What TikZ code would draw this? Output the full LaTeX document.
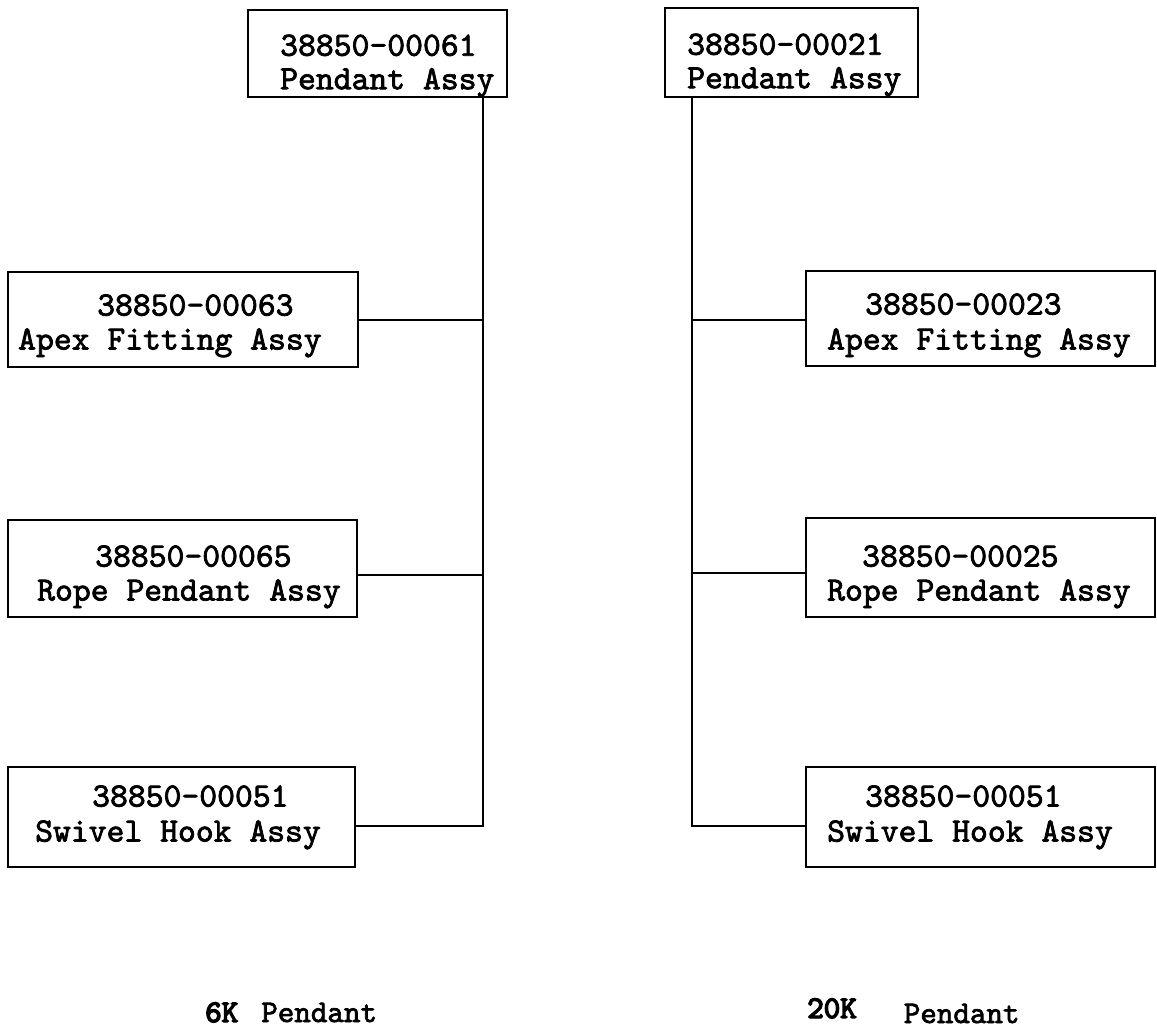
\documentclass[tikz,border=0pt]{standalone}
\usepackage{fontspec}
\newfontfamily\typew{lmmono10-regular.otf}[RawFeature={embolden=2.2}]
\newfontfamily\typewb{lmmono10-regular.otf}[RawFeature={embolden=4.5}]
\begin{document}
\begin{tikzpicture}[x=1pt,y=-1pt,
  box/.style={draw=black,line width=2.2pt,inner sep=0pt},
  txt/.style={anchor=north west,inner sep=0pt,align=left,font=\typew\fontsize{34}{34}\selectfont},
  captxt/.style={anchor=base west,inner sep=0pt,font=\typew\fontsize{31.5}{36}\selectfont},
  wire/.style={draw=black,line width=2.2pt,line join=miter}]
\useasboundingbox[fill=white] (0,0) rectangle (1157,1036);
% boxes
\node[box,minimum width=259pt,minimum height=87pt] (T1) at (377.5,53.5) {};
\node[box,minimum width=253pt,minimum height=89pt] (T2) at (791.5,52.5) {};
\node[box,minimum width=350pt,minimum height=95pt] (L1) at (183,319.5) {};
\node[box,minimum width=349pt,minimum height=97pt] (L2) at (182.5,568.5) {};
\node[box,minimum width=347pt,minimum height=100pt] (L3) at (181.5,817) {};
\node[box,minimum width=349pt,minimum height=95pt] (R1) at (980.5,318.5) {};
\node[box,minimum width=349pt,minimum height=99pt] (R2) at (980.5,567.5) {};
\node[box,minimum width=349pt,minimum height=100pt] (R3) at (980.5,817) {};
% texts (one node per box)
\node[txt] (T1t) at (280,34.4) {38850-00061\\[-0.5pt]Pendant Assy};
\node[txt] (T2t) at (687,33.4) {38850-00021\\[-0.5pt]Pendant Assy};
\node[txt] (L1t) at (18,294.2) {\hspace*{79pt}38850-00063\\Apex Fitting Assy};
\node[txt] (L2t) at (37,545.2) {\hspace*{58pt}38850-00065\\Rope Pendant Assy};
\node[txt] (L3t) at (35,785.2) {\hspace*{57pt}38850-00051\\[1pt]Swivel Hook Assy};
\node[txt] (R1t) at (827,293.2) {\hspace*{38pt}38850-00023\\[1pt]Apex Fitting Assy};
\node[txt] (R2t) at (827,545.2) {\hspace*{35pt}38850-00025\\Rope Pendant Assy};
\node[txt] (R3t) at (827,785.2) {\hspace*{38pt}38850-00051\\[1pt]Swivel Hook Assy};
% junction coordinates
\coordinate (jL1) at (483,320);
\coordinate (jL2) at (483,575);
\coordinate (jL3) at (483,826);
\coordinate (jR1) at (692,320);
\coordinate (jR2) at (692,573);
\coordinate (jR3) at (692,826);
% connectors
\draw[wire] (T1.south -| jL3) -- (jL3) -- (L3.east |- jL3);
\draw[wire] (L1.east |- jL1) -- (jL1);
\draw[wire] (L2.east |- jL2) -- (jL2);
\draw[wire] (T2.south -| jR3) -- (jR3) -- (R3.west |- jR3);
\draw[wire] (R1.west |- jR1) -- (jR1);
\draw[wire] (R2.west |- jR2) -- (jR2);
% captions
\node[captxt] (c6) at (205,1022) {{\typewb 6K}\hspace{23pt}Pendant};
\node[captxt] (c20) at (807,1018) {{\typewb 20K}\hspace{47pt}\raisebox{-5pt}{Pendant}};
\end{tikzpicture}
\end{document}
